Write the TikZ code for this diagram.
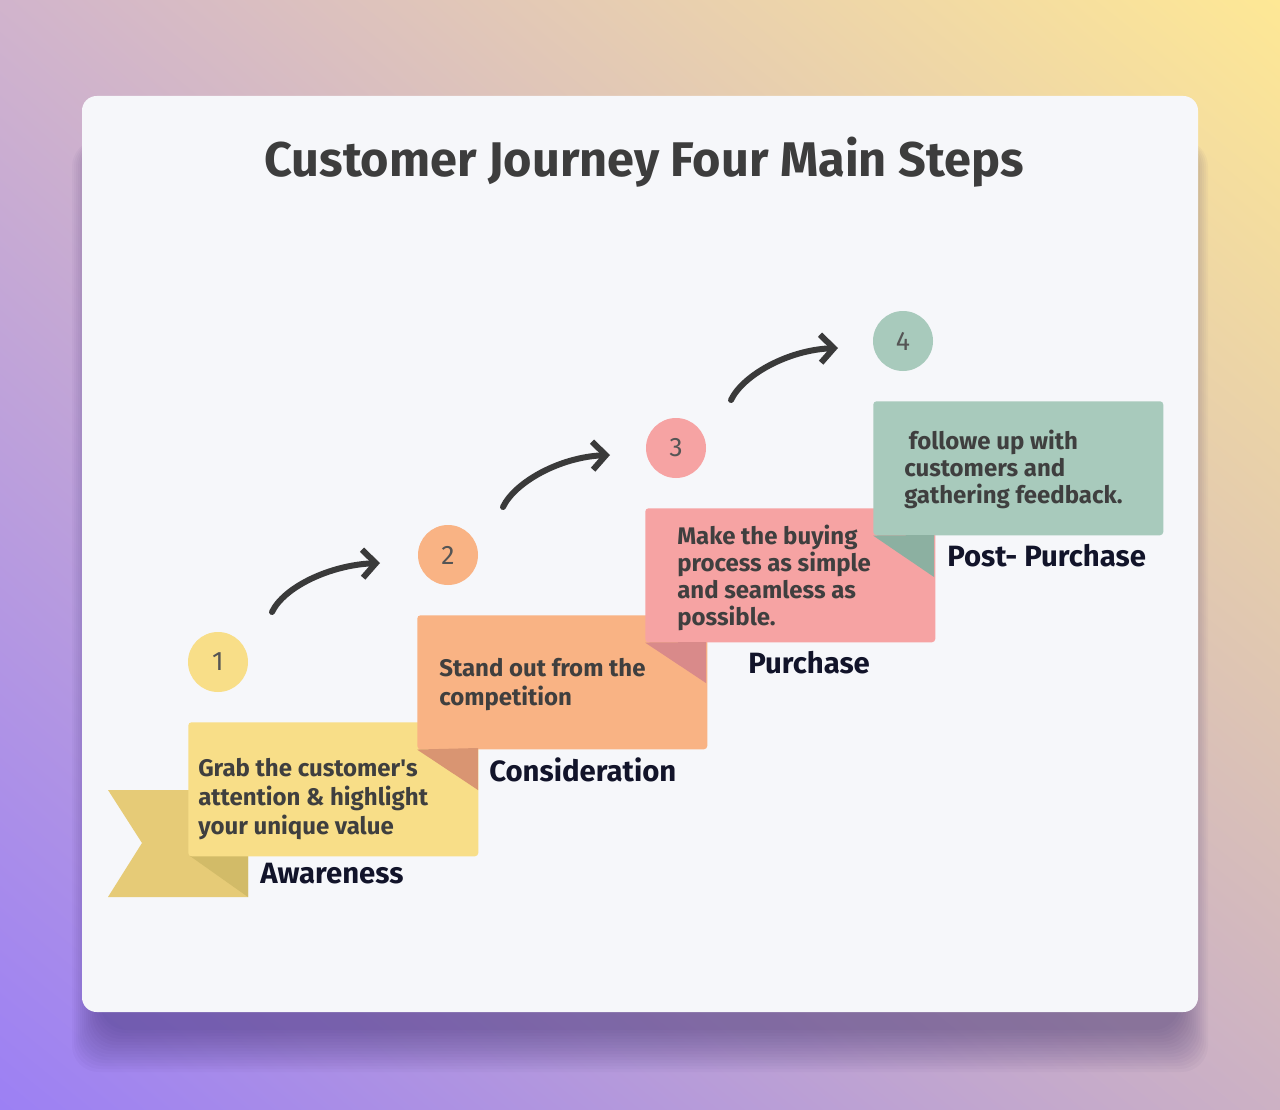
\documentclass[tikz,border=0pt]{standalone}
\usepackage{fontspec}
\setmainfont{Fira Sans}
\usetikzlibrary{arrows.meta,shadings,calc}
\definecolor{bgTL}{HTML}{D1B4CC}
\definecolor{bgTR}{HTML}{FEE895}
\definecolor{bgBL}{HTML}{9C80F4}
\definecolor{bgBR}{HTML}{CCB1C4}
\definecolor{card}{HTML}{F6F7FA}
\definecolor{shadowc}{HTML}{3A2A6A}
\definecolor{titlec}{HTML}{3D3D3D}
\definecolor{bodyc}{HTML}{3F3F3F}
\definecolor{labelc}{HTML}{12142A}
\definecolor{numc}{HTML}{555555}
\definecolor{arrowc}{HTML}{3A3A3A}
\definecolor{yel}{HTML}{F8DE88}
\definecolor{yeltail}{HTML}{E6CB77}
\definecolor{yelfold}{HTML}{D2BB68}
\definecolor{ora}{HTML}{F9B384}
\definecolor{orafold}{HTML}{D99572}
\definecolor{pnk}{HTML}{F6A3A3}
\definecolor{pnkfold}{HTML}{D98A8A}
\definecolor{grn}{HTML}{A8CABC}
\definecolor{grnfold}{HTML}{8CB0A1}
\tikzset{
  stepbox/.style={rectangle, rounded corners=2.5pt, anchor=north west,
    minimum width=217.5pt, minimum height=100.5pt, inner sep=0pt},
  steptext/.style={anchor=west, inner sep=0pt, align=left, text=bodyc,
    font=\fontsize{18}{21.75}\selectfont\bfseries},
  stepnum/.style={circle, minimum size=45pt, inner sep=0pt, text=numc,
    font=\fontsize{20}{24}\selectfont},
  steplabel/.style={anchor=west, inner sep=0pt, text=labelc,
    font=\fontsize{22}{26}\selectfont\bfseries},
  journey/.style={arrowc, line width=4.5pt, line cap=round,
    -{Straight Barb[length=10pt,width=21pt,line width=4.5pt]}}
}
\begin{document}
\begin{tikzpicture}[x=0.75pt,y=-0.75pt]
\useasboundingbox (0,0) rectangle (1280,1109);
\shade[upper left=bgTL, upper right=bgTR, lower left=bgBL, lower right=bgBR]
  (0,0) rectangle (1280,1109);
\foreach \i in {0,...,14}
  \fill[shadowc, opacity=0.035, rounded corners=20pt]
    (100-\i*2,140) rectangle (1180+\i*2,1030+\i*3);
\fill[card, rounded corners=11pt] (82,96) rectangle (1198,1012);

\node (title) at (644,162) [text=titlec, font=\fontsize{36.5}{42}\selectfont\bfseries]
  {Customer Journey Four Main Steps};

% awareness
\fill[yeltail] (108,790) -- (248,790) -- (248,897) -- (108,897) -- (142,843) -- cycle;
\fill[yelfold] (190,856) -- (248,856) -- (248,897) -- cycle;
\node (box1) at (188,722) [stepbox, fill=yel] {};
\node (txt1) at (198,799) [steptext]
  {Grab the customer\textquotesingle s\\attention \& highlight\\your unique value};
\node (lab1) at (260,874) [steplabel] {Awareness};

% consideration
\node (box2) at (417,615) [stepbox, fill=ora] {};
\fill[orafold] (box2.south west) -- (478,748) -- (478,790) -- cycle;
\node (txt2) at (439,685) [steptext] {Stand out from the\\competition};
\node (lab2) at (489,770) [steplabel] {Consideration};

% purchase
\node (box3) at (645,508) [stepbox, fill=pnk] {};
\fill[pnkfold] (box3.south west) -- (706,642) -- (706,683) -- cycle;
\node (txt3) at (677,578) [steptext, font=\fontsize{18}{20.25}\selectfont\bfseries]
  {Make the buying\\process as simple\\and seamless as\\possible.};
\node (lab3) at (748,663) [steplabel] {Purchase};

% post-purchase
\node (box4) at (873,401) [stepbox, fill=grn] {};
\fill[grnfold] (box4.south west) -- (934,535) -- (934,577) -- cycle;
\node (txt4) at (904,469) [steptext, font=\fontsize{18}{20.25}\selectfont\bfseries]
  {\hspace{3.5pt}followe up with\\customers and\\gathering feedback.};
\node (lab4) at (947,556) [steplabel] {Post- Purchase};

% numbers
\node (n1) at (218,662) [stepnum, fill=yel] {1};
\node (n2) at (448,555) [stepnum, fill=ora] {2};
\node (n3) at (676,448) [stepnum, fill=pnk] {3};
\node (n4) at (903,341) [stepnum, fill=grn] {4};

% arrows
\coordinate (a1) at (272,612);
\coordinate (b1) at (380,563);
\coordinate (a2) at (503,507);
\coordinate (b2) at (610,455);
\coordinate (a3) at (731,400);
\coordinate (b3) at (838,348);
\draw[journey] (a1) .. controls ($(a1)+(12,-25)$) and ($(b1)+(-50,2)$) .. (b1);
\draw[journey] (a2) .. controls ($(a2)+(12,-25)$) and ($(b2)+(-50,2)$) .. (b2);
\draw[journey] (a3) .. controls ($(a3)+(12,-25)$) and ($(b3)+(-50,2)$) .. (b3);
\end{tikzpicture}
\end{document}
